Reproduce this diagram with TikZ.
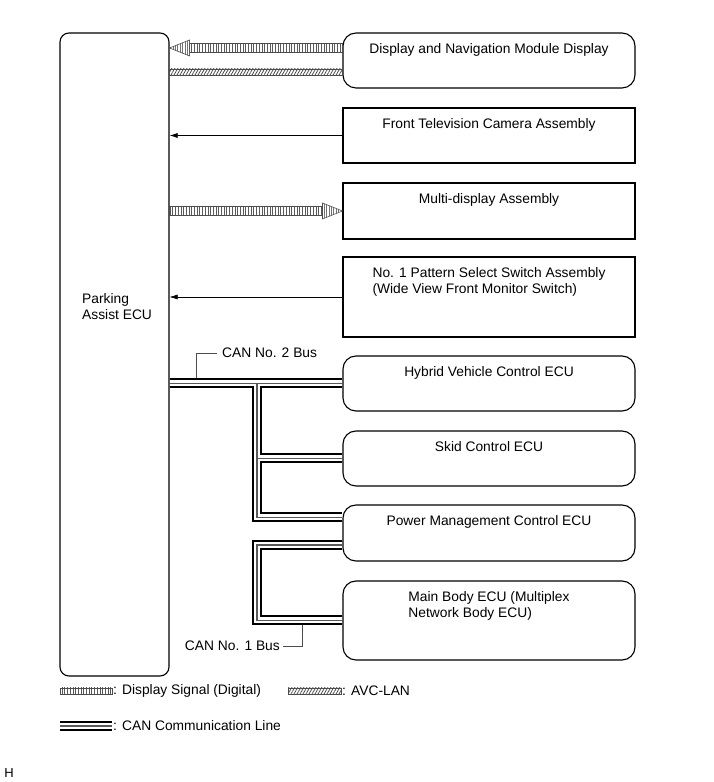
\documentclass[tikz,border=0pt]{standalone}
\usepackage{fontspec}
\setmainfont{Liberation Sans}
\usetikzlibrary{arrows.meta,calc,patterns.meta}

\tikzset{
  unitbox/.style={draw, line width=1.1pt, inner sep=0pt, minimum width=292pt},
  roundbox/.style={unitbox, rounded corners=13pt},
  boxtext/.style={anchor=north, yshift=-11pt, inner sep=0pt, align=center},
  sigband/.style={draw=black!70, line width=0.5pt, pattern={Lines[angle=90,distance=2.7pt,line width=0.7pt]}, pattern color=black!65},
  sighead/.style={draw=black!70, line width=0.6pt, pattern={Lines[angle=90,distance=2.4pt,line width=0.5pt]}, pattern color=black!55},
  avcband/.style={draw=black!70, line width=0.5pt, pattern={Lines[angle=60,distance=2.6pt,line width=0.8pt]}, pattern color=black!70},
  canbus/.style={draw=black, line width=10pt, postaction={draw=white, line width=6pt}, postaction={draw=black!65, line width=1.4pt}},
  thinarrow/.style={-{Latex[length=8pt,width=5pt]}, line width=0.6pt},
  leader/.style={draw=black!70, line width=0.7pt},
}

\begin{document}
\begin{tikzpicture}[x=1pt,y=1pt,font=\fontsize{13.8}{16}\selectfont]
\useasboundingbox (0,0) rectangle (713,782);

% ECU on the left
\node[roundbox, minimum width=109pt, minimum height=643pt, rounded corners=9pt] (pa) at (114.5,427.5) {};
\node[anchor=north west, inner sep=0pt, align=left] (patxt) at (82,489) {Parking\\Assist ECU};

% units on the right
\node[roundbox, minimum height=55pt, label={[boxtext]north:{Display and Navigation Module Display}}] (dnm) at (489,721.5) {};
\node[unitbox, minimum height=55pt, label={[boxtext]north:{Front Television Camera Assembly}}] (ftv) at (489,646.5) {};
\node[unitbox, minimum height=56pt, label={[boxtext]north:{Multi-display Assembly}}] (md) at (489,571) {};
\node[unitbox, minimum height=80pt, label={[boxtext,align=left]north:{No. 1 Pattern Select Switch Assembly\\(Wide View Front Monitor Switch)}}] (pss) at (489,485) {};
\node[roundbox, minimum height=55pt, label={[boxtext]north:{Hybrid Vehicle Control ECU}}] (hv) at (489,398.5) {};
\node[roundbox, minimum height=55pt, label={[boxtext]north:{Skid Control ECU}}] (skid) at (489,323.5) {};
\node[roundbox, minimum height=56pt, label={[boxtext]north:{Power Management Control ECU}}] (pm) at (489,249) {};
\node[roundbox, minimum height=79pt, label={[boxtext,align=left]north:{Main Body ECU (Multiplex\\Network Body ECU)}}] (mb) at (489,161.5) {};

% display signal and AVC-LAN
\coordinate (dsig) at ($(dnm.west)+(0,12.5)$);
\coordinate (dsigL) at (pa.east |- dsig);
\path[sigband] ($(dsigL)+(20,4.5)$) rectangle ($(dsig)+(0,-4.5)$);
\path[sighead] (dsigL) -- ++(20,8) -- ++(0,-16) -- cycle;
\path[avcband] ($(pa.east |- dnm.west)+(0,-8.5)$) rectangle ($(dnm.west)+(0,-14.5)$);

\draw[thinarrow] (ftv.west) -- (pa.east |- ftv.west);

\path[sigband] ($(pa.east |- md.west)+(0,4.5)$) rectangle ($(md.west)+(-20,-4.5)$);
\path[sighead] (md.west) -- ++(-20,8) -- ++(0,-16) -- cycle;

\draw[thinarrow] (pss.west) -- (pa.east |- pss.west);

% CAN buses
\coordinate (jn) at (257,0);
\node[anchor=west, inner sep=0pt] (can2lbl) at (222,429) {CAN No. 2 Bus};
\coordinate (can2pt) at ($(pa.east |- hv.west)+(27,5)$);
\draw[leader] ($(can2lbl.west)+(-5,0)$) -| (can2pt);
\node[anchor=east, inner sep=0pt] (can1lbl) at (280,136) {CAN No. 1 Bus};
\coordinate (can1pt) at ($(jn |- mb.west)+(45,-5)$);
\draw[leader] ($(can1lbl.east)+(3,0)$) -| (can1pt);

\draw[canbus] (pa.east |- hv.west) -- (hv.west)
  (jn |- hv.west) |- ($(pm.west)+(0,15.5)$)
  (jn |- skid.west) -- (skid.west);
\draw[canbus] ($(pm.west)+(0,-12)$) -| (jn |- mb.west) -- (mb.west);

% legend
\path[sigband] (60,88) rectangle (112,94);
\node[anchor=west, inner sep=0pt] (lgsig) at (113,91) {: Display Signal (Digital)};
\path[avcband] (288,88) rectangle (341,94);
\node[anchor=west, inner sep=0pt] (lgavc) at (342,91) {: AVC-LAN};
\draw[canbus] (60,56) -- (112,56);
\node[anchor=west, inner sep=0pt] (lgcan) at (113,56) {: CAN Communication Line};

\node[font=\fontsize{13}{14}\selectfont] (hmark) at (9,9) {H};
\end{tikzpicture}
\end{document}
